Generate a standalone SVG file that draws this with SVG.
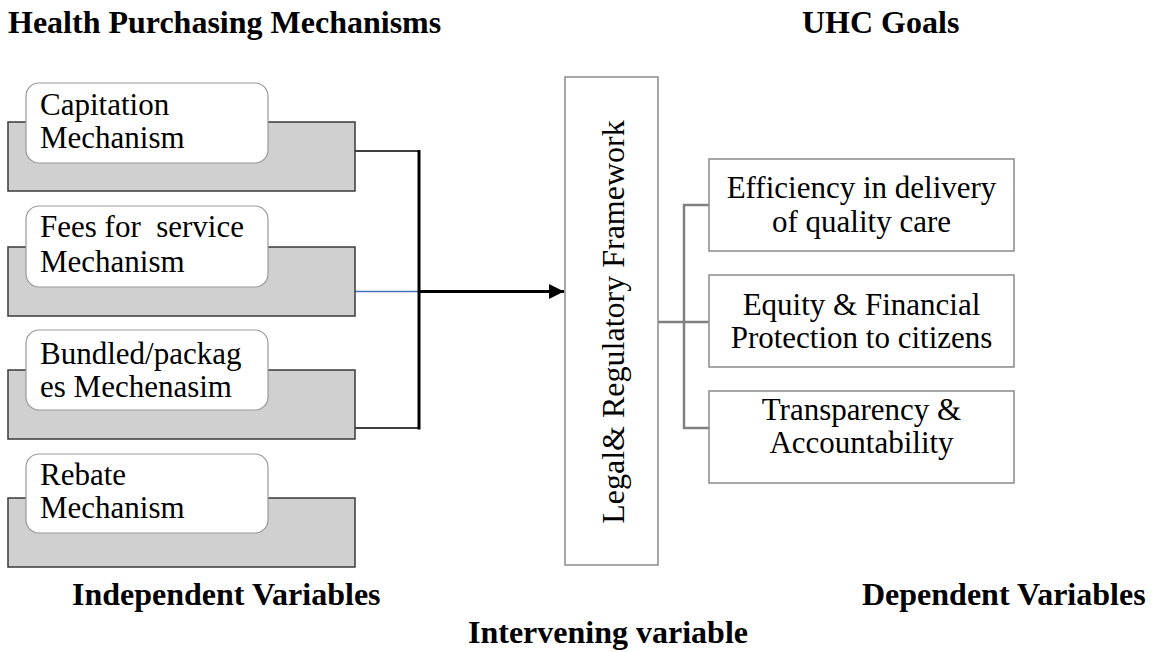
<svg xmlns="http://www.w3.org/2000/svg" width="1154" height="652" viewBox="0 0 1154 652">
<style>
.t{font-family:"Liberation Serif","Times New Roman",serif;font-size:31px;fill:#000}
.b{font-family:"Liberation Serif","Times New Roman",serif;font-size:32px;font-weight:bold;fill:#000}
.gray{fill:#d0d0d0;stroke:#3a3a3a;stroke-width:1.5}
.card{fill:#fff;stroke:#999;stroke-width:1.2}
.box{fill:#fff;stroke:#8a8a8a;stroke-width:1.5}
.c{text-anchor:middle}
</style>
<defs>
<marker id="ah" markerWidth="16" markerHeight="16" refX="15" refY="7.5" orient="auto" markerUnits="userSpaceOnUse">
<path d="M0,0 L15,7.5 L0,15 Z" fill="#000"/>
</marker>
</defs>
<rect width="1154" height="652" fill="#fff"/>
<g id="titles">
<text class="b" x="8" y="33">Health Purchasing Mechanisms</text>
<text class="b" x="802" y="33">UHC Goals</text>
<text class="b" x="72" y="605">Independent Variables</text>
<text class="b" x="862" y="605">Dependent Variables</text>
<text class="b" x="468" y="643">Intervening variable</text>
</g>
<g id="connectors">
<polyline points="355,151 419,151" fill="none" stroke="#000" stroke-width="1.5"/>
<line x1="355" y1="291.5" x2="419" y2="291.5" stroke="#4472c4" stroke-width="1.4"/>
<polyline points="355,428 419,428" fill="none" stroke="#000" stroke-width="1.5"/>
<line x1="419" y1="150" x2="419" y2="429.5" stroke="#000" stroke-width="3"/>
<line x1="419" y1="291.5" x2="564" y2="291.5" stroke="#000" stroke-width="3" marker-end="url(#ah)"/>
<g fill="none" stroke="#808080" stroke-width="2.5">
<line x1="658" y1="322" x2="684" y2="322"/>
<polyline points="709,205 684,205 684,428 709,428"/>
<line x1="684" y1="322" x2="709" y2="322"/>
</g>
</g>
<g id="capitation">
<rect class="gray" x="8" y="122" width="347" height="69"/>
<rect class="card" x="26" y="83" width="242" height="80" rx="13"/>
<text class="t" x="40" y="115">Capitation</text>
<text class="t" x="40" y="148">Mechanism</text>
</g>
<g id="fees">
<rect class="gray" x="8" y="247" width="347" height="69"/>
<rect class="card" x="26" y="206" width="242" height="81" rx="13"/>
<text class="t" x="40" y="237" xml:space="preserve">Fees for  service</text>
<text class="t" x="40" y="272">Mechanism</text>
</g>
<g id="bundled">
<rect class="gray" x="8" y="370" width="347" height="69"/>
<rect class="card" x="26" y="330" width="242" height="80" rx="13"/>
<text class="t" x="40" y="364">Bundled/packag</text>
<text class="t" x="40" y="397">es Mechenasim</text>
</g>
<g id="rebate">
<rect class="gray" x="8" y="498" width="347" height="69"/>
<rect class="card" x="26" y="454" width="242" height="79" rx="13"/>
<text class="t" x="40" y="485">Rebate</text>
<text class="t" x="40" y="518">Mechanism</text>
</g>
<g id="legal">
<rect class="box" x="565" y="77" width="93" height="488"/>
<text class="t c" transform="translate(624,322) rotate(-90)" style="font-size:32px">Legal&amp; Regulatory Framework</text>
</g>
<g id="efficiency">
<rect class="box" x="709" y="159" width="305" height="92"/>
<text class="t c" x="861.5" y="198">Efficiency in delivery</text>
<text class="t c" x="861.5" y="232">of quality care</text>
</g>
<g id="equity">
<rect class="box" x="709" y="275" width="305" height="92"/>
<text class="t c" x="861.5" y="315">Equity &amp; Financial</text>
<text class="t c" x="861.5" y="348">Protection to citizens</text>
</g>
<g id="transparency">
<rect class="box" x="709" y="391" width="305" height="92"/>
<text class="t c" x="861.5" y="420">Transparency &amp;</text>
<text class="t c" x="861.5" y="453">Accountability</text>
</g>
</svg>
